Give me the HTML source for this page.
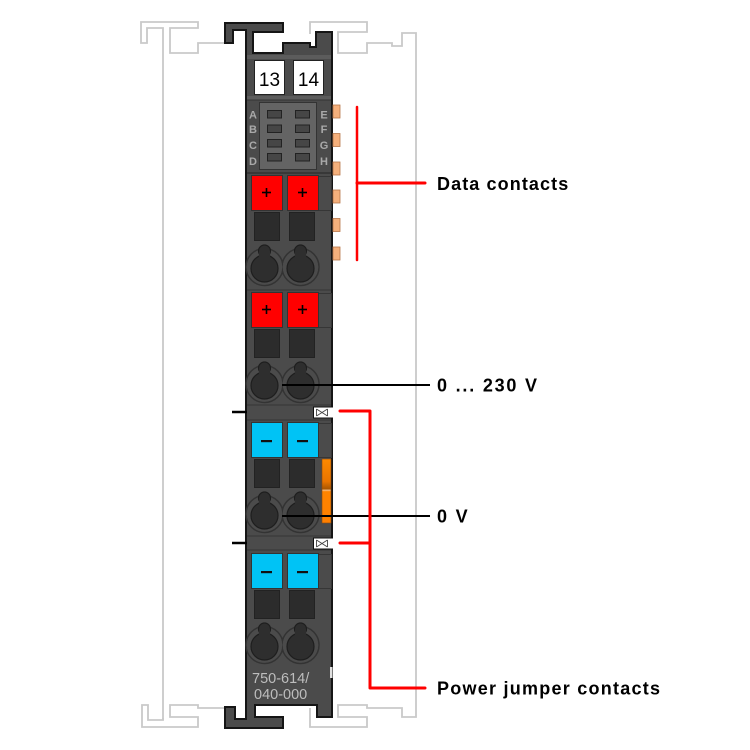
<!DOCTYPE html>
<html><head><meta charset="utf-8"><style>
html,body{margin:0;padding:0;background:#fff;}
svg{display:block;}
</style></head><body>
<svg width="750" height="750" viewBox="0 0 750 750" xmlns="http://www.w3.org/2000/svg">
<defs>
<linearGradient id="og" x1="0" y1="0" x2="0" y2="1">
<stop offset="0" stop-color="#ff8a00"/>
<stop offset="0.35" stop-color="#e87400"/>
<stop offset="0.47" stop-color="#a85600"/>
<stop offset="0.485" stop-color="#f6c08a"/>
<stop offset="0.51" stop-color="#ff8400"/>
<stop offset="1" stop-color="#ff7f00"/>
</linearGradient>
</defs>
<rect width="750" height="750" fill="#fff"/>

<!-- rail outlines -->
<g stroke="#c9c9c9" stroke-width="1.8" fill="none" stroke-linejoin="miter">
<polyline points="163,720 163,28 147,28 147,43 141,43 141,22 198,22 198,28 170,28 170,53 198,53 198,43 228,43"/>
<polyline points="163,718 163,720 148,720 148,705 142,705 142,727 198,727 198,717 170,717 170,705 198,705 198,708 228,708"/>
<polyline points="310,34 310,22 367,22 367,32 338,32 338,53 367,53 367,43 392,43 392,46 402,46 402,33 416,33 416,717 402,717 402,708 367,708 367,705 338,705 338,717 367,717 367,727 310,727 310,708"/>
</g>

<!-- module body -->
<polygon points="225,23 283,23 283,32 253,32 253,53 283,53 283,43 310,43 310,47 316,47 316,32 332,32 332,717 317,717 317,705 255,705 255,717 283,717 283,728 225,728 225,707 235,707 235,719 246,719 246,30 233,30 233,43 225,43" fill="#4b4b4b" stroke="#151515" stroke-width="2" stroke-linejoin="miter"/>

<!-- top label strip -->
<rect x="247" y="55" width="84" height="4" fill="#5c5c5c"/>
<rect x="247" y="96" width="84" height="4" fill="#5c5c5c"/>
<line x1="247" y1="100" x2="331" y2="100" stroke="#333" stroke-width="1"/>
<rect x="254.5" y="60.5" width="30" height="34" fill="#fff" stroke="#222" stroke-width="1"/>
<rect x="293.5" y="60.5" width="30" height="34" fill="#fff" stroke="#222" stroke-width="1"/>
<text x="269.5" y="86" font-family="Liberation Sans, sans-serif" font-size="19" text-anchor="middle" fill="#000">13</text>
<text x="308.5" y="86" font-family="Liberation Sans, sans-serif" font-size="19" text-anchor="middle" fill="#000">14</text>

<!-- data contacts area -->
<rect x="259.5" y="102.5" width="57" height="67" fill="#646464" stroke="#333" stroke-width="1"/>
<g fill="#464646" stroke="#222" stroke-width="1">
<rect x="267.5" y="110.5" width="14" height="7.5"/><rect x="295.5" y="110.5" width="14" height="7.5"/>
<rect x="267.5" y="125" width="14" height="7.5"/><rect x="295.5" y="125" width="14" height="7.5"/>
<rect x="267.5" y="139.5" width="14" height="7.5"/><rect x="295.5" y="139.5" width="14" height="7.5"/>
<rect x="267.5" y="153.5" width="14" height="7.5"/><rect x="295.5" y="153.5" width="14" height="7.5"/>
</g>
<g font-family="Liberation Sans, sans-serif" font-size="11" font-weight="bold" fill="#a9a9a9" text-anchor="middle">
<text x="253" y="118.5">A</text><text x="253" y="133">B</text><text x="253" y="149">C</text><text x="253" y="165">D</text>
<text x="324" y="118.5">E</text><text x="324" y="133">F</text><text x="324" y="149">G</text><text x="324" y="165">H</text>
</g>
<line x1="247" y1="173" x2="331" y2="173" stroke="#333" stroke-width="1.5"/>

<!-- orange data tabs -->
<g fill="#f5b07c" stroke="#b8774a" stroke-width="0.8">
<rect x="333" y="105" width="7" height="13"/>
<rect x="333" y="133.5" width="7" height="13"/>
<rect x="333" y="162" width="7" height="13"/>
<rect x="333" y="190" width="7" height="13"/>
<rect x="333" y="218.5" width="7" height="13"/>
<rect x="333" y="247" width="7" height="13"/>
</g>

<!-- right column separators -->
<g fill="none" stroke="#363636" stroke-width="1">
<rect x="318.5" y="176.5" width="13" height="34"/>
<rect x="318.5" y="293.5" width="13" height="34"/>
<rect x="318.5" y="423.5" width="13" height="34"/>
<rect x="318.5" y="554.5" width="13" height="34"/>
<line x1="247" y1="290" x2="331" y2="290"/>
<line x1="247" y1="405" x2="331" y2="405"/>
<line x1="247" y1="420" x2="331" y2="420"/>
<line x1="247" y1="536" x2="331" y2="536"/>
<line x1="247" y1="550" x2="331" y2="550"/>
</g>

<!-- rows: rings (union outlines) -->
<g stroke="#333" stroke-width="1.5" fill="#4b4b4b">
<circle cx="264.5" cy="267" r="18.5"/><circle cx="300.5" cy="267" r="18.5"/>
<circle cx="264.5" cy="384" r="18.5"/><circle cx="300.5" cy="384" r="18.5"/>
<circle cx="264.5" cy="514" r="18.5"/><circle cx="300.5" cy="514" r="18.5"/>
<circle cx="264.5" cy="645" r="18.5"/><circle cx="300.5" cy="645" r="18.5"/>
</g>
<g fill="#4b4b4b">
<circle cx="264.5" cy="267" r="17.7"/><circle cx="300.5" cy="267" r="17.7"/>
<circle cx="264.5" cy="384" r="17.7"/><circle cx="300.5" cy="384" r="17.7"/>
<circle cx="264.5" cy="514" r="17.7"/><circle cx="300.5" cy="514" r="17.7"/>
<circle cx="264.5" cy="645" r="17.7"/><circle cx="300.5" cy="645" r="17.7"/>
</g>

<!-- keyholes -->
<g stroke="#1e1e1e" stroke-width="1.2" fill="#2e2e2e">
<circle cx="264.5" cy="268.5" r="13.5"/><circle cx="264.5" cy="251" r="6"/>
<circle cx="300.5" cy="268.5" r="13.5"/><circle cx="300.5" cy="251" r="6"/>
<circle cx="264.5" cy="385.5" r="13.5"/><circle cx="264.5" cy="368" r="6"/>
<circle cx="300.5" cy="385.5" r="13.5"/><circle cx="300.5" cy="368" r="6"/>
<circle cx="264.5" cy="515.5" r="13.5"/><circle cx="264.5" cy="498" r="6"/>
<circle cx="300.5" cy="515.5" r="13.5"/><circle cx="300.5" cy="498" r="6"/>
<circle cx="264.5" cy="646.5" r="13.5"/><circle cx="264.5" cy="629" r="6"/>
<circle cx="300.5" cy="646.5" r="13.5"/><circle cx="300.5" cy="629" r="6"/>
</g>
<g fill="#2e2e2e">
<rect x="259" y="251" width="11" height="12"/><rect x="295" y="251" width="11" height="12"/>
<rect x="259" y="368" width="11" height="12"/><rect x="295" y="368" width="11" height="12"/>
<rect x="259" y="498" width="11" height="12"/><rect x="295" y="498" width="11" height="12"/>
<rect x="259" y="629" width="11" height="12"/><rect x="295" y="629" width="11" height="12"/>
</g>

<!-- dark squares -->
<g fill="#2c2c2c" stroke="#222" stroke-width="1">
<rect x="254.5" y="212.5" width="25" height="28"/><rect x="289.5" y="212.5" width="25" height="28"/>
<rect x="254.5" y="329.5" width="25" height="28"/><rect x="289.5" y="329.5" width="25" height="28"/>
<rect x="254.5" y="459.5" width="25" height="28"/><rect x="289.5" y="459.5" width="25" height="28"/>
<rect x="254.5" y="590.5" width="25" height="28"/><rect x="289.5" y="590.5" width="25" height="28"/>
</g>

<!-- red blocks -->
<g fill="#ff0000" stroke="#333" stroke-width="1">
<rect x="251.5" y="175.5" width="31" height="35"/><rect x="287.5" y="175.5" width="31" height="35"/>
<rect x="251.5" y="292.5" width="31" height="35"/><rect x="287.5" y="292.5" width="31" height="35"/>
</g>
<g stroke="#000" stroke-width="1.6">
<line x1="262" y1="192.5" x2="271" y2="192.5"/><line x1="266.5" y1="188" x2="266.5" y2="197"/>
<line x1="298" y1="192.5" x2="307" y2="192.5"/><line x1="302.5" y1="188" x2="302.5" y2="197"/>
<line x1="262" y1="309.5" x2="271" y2="309.5"/><line x1="266.5" y1="305" x2="266.5" y2="314"/>
<line x1="298" y1="309.5" x2="307" y2="309.5"/><line x1="302.5" y1="305" x2="302.5" y2="314"/>
</g>

<!-- blue blocks -->
<g fill="#00c3f5" stroke="#333" stroke-width="1">
<rect x="251.5" y="422.5" width="31" height="35"/><rect x="287.5" y="422.5" width="31" height="35"/>
<rect x="251.5" y="553.5" width="31" height="35"/><rect x="287.5" y="553.5" width="31" height="35"/>
</g>
<g fill="#111">
<rect x="261" y="440" width="11" height="2.2"/><rect x="297" y="440" width="11" height="2.2"/>
<rect x="261" y="571" width="11" height="2.2"/><rect x="297" y="571" width="11" height="2.2"/>
</g>

<!-- orange bar -->
<rect x="322" y="459" width="9" height="64" fill="url(#og)" stroke="#8a4a10" stroke-width="0.6"/>

<!-- power jumper X boxes -->
<g>
<rect x="313" y="407" width="21" height="11" fill="#fff"/>
<polyline points="333,407 313.5,407 313.5,418 333,418" fill="none" stroke="#111" stroke-width="1"/>
<path d="M316.5,409 L316.5,416 M327.5,409 L327.5,416 M316.5,409 L327.5,416 M316.5,416 L327.5,409" stroke="#444" stroke-width="0.9" fill="none"/>
<rect x="313" y="538" width="21" height="11" fill="#fff"/>
<polyline points="333,538 313.5,538 313.5,549 333,549" fill="none" stroke="#111" stroke-width="1"/>
<path d="M316.5,540 L316.5,547 M327.5,540 L327.5,547 M316.5,540 L327.5,547 M316.5,547 L327.5,540" stroke="#444" stroke-width="0.9" fill="none"/>
</g>

<!-- small mark on right edge -->
<rect x="330" y="667" width="2.5" height="11" fill="#e0e0e0"/>

<!-- part number -->
<g font-family="Liberation Sans, sans-serif" font-size="14.5" fill="#bdbdbd">
<text x="252" y="683">750-614/</text>
<text x="254" y="699">040-000</text>
</g>

<!-- black lines -->
<g stroke="#000" stroke-width="2">
<line x1="232" y1="412" x2="247" y2="412" stroke-width="2.5"/>
<line x1="232" y1="543" x2="247" y2="543" stroke-width="2.5"/>
<line x1="282" y1="385" x2="430" y2="385"/>
<line x1="282" y1="516" x2="430" y2="516"/>
</g>

<!-- red brackets -->
<g stroke="#ff0000" fill="none" stroke-linecap="round" stroke-linejoin="round">
<line x1="357" y1="107" x2="357" y2="260" stroke-width="2.5"/>
<line x1="357" y1="183" x2="425" y2="183" stroke-width="3"/>
<polyline points="340,411 370,411 370,688 425,688" stroke-width="3"/>
<line x1="340" y1="543" x2="370" y2="543" stroke-width="3"/>
</g>

<!-- labels -->
<g font-family="Liberation Sans, sans-serif" font-size="18" font-weight="bold" fill="#000" letter-spacing="1.1">
<text x="437" y="190">Data contacts</text>
<text x="437" y="391.5" letter-spacing="1.8">0 ... 230 V</text>
<text x="437" y="522.5" letter-spacing="1.8">0 V</text>
<text x="437" y="694.5" letter-spacing="1.25">Power jumper contacts</text>
</g>
</svg>
</body></html>
